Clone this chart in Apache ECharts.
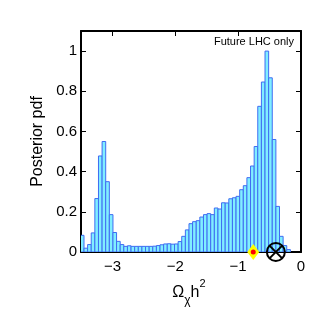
<!DOCTYPE html>
<html>
<head>
<meta charset="utf-8">
<script src="https://cdn.jsdelivr.net/npm/echarts@6/dist/echarts.min.js"></script>
<style>
    html, body {margin: 0; padding: 0; background: #fff;}
    #chart {width: 332px; height: 332px;}
</style>
</head>
<body>
<div id="chart"></div>
<script>
// histogram bins (left edge of first bin, bin width) and heights
const binStart = -3.51;
const binWidth = 0.0576;
const pdf = [
    0.083, 0.019, 0.037, 0.095, 0.266, 0.478, 0.55, 0.35, 0.186, 0.097,
    0.053, 0.037, 0.028, 0.031, 0.028, 0.028, 0.028, 0.028, 0.028, 0.028,
    0.029, 0.032, 0.036, 0.04, 0.041, 0.039, 0.04, 0.052, 0.078, 0.11,
    0.141, 0.151, 0.156, 0.174, 0.186, 0.191, 0.186, 0.219, 0.214, 0.245,
    0.244, 0.265, 0.27, 0.277, 0.31, 0.33, 0.37, 0.428, 0.525, 0.725,
    0.846, 1.0, 0.867, 0.56, 0.227, 0.078, 0.032, 0.012
];
const xTicks = [-3, -2, -1, 0];
const yTicks = [0, 0.2, 0.4, 0.6, 0.8, 1];
const bestFit = [-0.76];   // yellow diamond
const trueValue = [-0.40]; // circled cross

const FONT = "Liberation Sans";
const minus = (v) => String(v).replace("-", "\u2212");

const bins = pdf.map((h, i) => [binStart + i * binWidth, binStart + (i + 1) * binWidth, h]);

// axis pieces shared by the mirrored axes
const line = {show: true, onZero: false, lineStyle: {color: "#000", width: 2}};
const tick = (vals) => ({show: true, inside: true, length: 5, customValues: vals, lineStyle: {color: "#000", width: 1}});

const chart = echarts.init(document.getElementById("chart"));
chart.setOption({
    animation: false,
    grid: {left: 81, right: 31, top: 31, bottom: 80},
    xAxis: [{
        type: "value", min: -3.5, max: 0, position: "bottom",
        axisLine: line, axisTick: tick(xTicks), splitLine: {show: false},
        axisLabel: {customValues: xTicks, formatter: minus, color: "#000", fontSize: 15, fontFamily: FONT, margin: 7},
        name: "\u03a9{sub|\u03c7}h{sup|2}", nameLocation: "middle", nameGap: 15,
        nameTextStyle: {
            color: "#000", fontSize: 16, fontFamily: FONT, lineHeight: 28, padding: [0, 4, 0, 0],
            rich: {
                sub: {fontSize: 12, fontFamily: FONT, color: "#000", verticalAlign: "bottom", lineHeight: 28},
                sup: {fontSize: 11, fontFamily: FONT, color: "#000", verticalAlign: "top", lineHeight: 28}
            }
        }
    }, {
        type: "value", min: -3.5, max: 0, position: "top",
        axisLine: line, axisTick: tick(xTicks), axisLabel: {show: false}, splitLine: {show: false}
    }],
    yAxis: [{
        type: "value", min: 0, max: 1.1, position: "left",
        axisLine: line, axisTick: tick(yTicks), splitLine: {show: false},
        axisLabel: {customValues: yTicks, color: "#000", fontSize: 15, fontFamily: FONT, margin: 4},
        name: "Posterior pdf", nameLocation: "middle", nameRotate: 90, nameGap: 29,
        nameTextStyle: {color: "#000", fontSize: 16, fontFamily: FONT}
    }, {
        type: "value", min: 0, max: 1.1, position: "right",
        axisLine: line, axisTick: tick(yTicks), axisLabel: {show: false}, splitLine: {show: false}
    }],
    graphic: [{
        type: "text", right: 38, top: 36,
        style: {text: "Future LHC only", fill: "#000", fontSize: 11, fontFamily: FONT}
    }],
    series: [{
        type: "custom", clip: true, z: 2,
        encode: {x: [0, 1], y: 2},
        data: bins,
        renderItem(params, api) {
            const a = api.coord([api.value(0), api.value(2)]);
            const b = api.coord([api.value(1), 0]);
            return {
                type: "rect",
                shape: {x: a[0], y: a[1], width: b[0] - a[0], height: b[1] - a[1]},
                style: {fill: "#80eeff", stroke: "#3f6cf2", lineWidth: 1}
            };
        }
    }, {
        // best-fit marker: yellow diamond with red centre
        type: "custom", clip: false, z: 10,
        data: bestFit.map(x => [x, 0]),
        renderItem(params, api) {
            const p = api.coord([api.value(0), api.value(1)]);
            return {
                type: "group",
                children: [{
                    type: "polygon",
                    shape: {points: [[p[0], p[1] - 8], [p[0] + 6, p[1]], [p[0], p[1] + 8], [p[0] - 6, p[1]]]},
                    style: {fill: "#ffff00"}
                }, {
                    type: "circle", shape: {cx: p[0], cy: p[1], r: 2.5}, style: {fill: "#ff0000"}
                }]
            };
        }
    }, {
        // true value: circled cross
        type: "custom", clip: false, z: 10,
        data: trueValue.map(x => [x, 0]),
        renderItem(params, api) {
            const p = api.coord([api.value(0), api.value(1)]);
            const r = 9, d = r * 0.707;
            const st = {stroke: "#000", lineWidth: 2, fill: null};
            return {
                type: "group",
                children: [
                    {type: "circle", shape: {cx: p[0], cy: p[1], r: r}, style: st},
                    {type: "line", shape: {x1: p[0] - d, y1: p[1] - d, x2: p[0] + d, y2: p[1] + d}, style: st},
                    {type: "line", shape: {x1: p[0] - d, y1: p[1] + d, x2: p[0] + d, y2: p[1] - d}, style: st}
                ]
            };
        }
    }]
});
</script>
</body>
</html>
